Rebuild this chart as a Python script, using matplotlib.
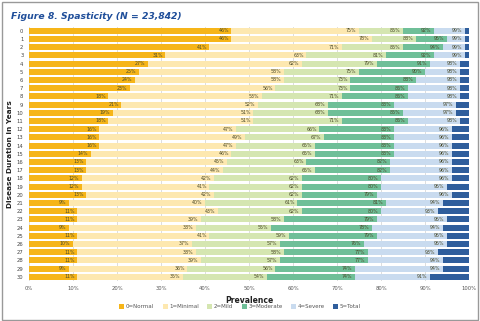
import matplotlib
matplotlib.use("Agg")
import matplotlib.pyplot as plt
from matplotlib.patches import Rectangle, Patch
import numpy as np

years = list(range(31))
categories = ["0=Normal", "1=Minimal", "2=Mild", "3=Moderate", "4=Severe", "5=Total"]

# cumulative percentages (as labelled in the chart)
cum_normal = [46, 46, 41, 31, 27, 25, 24, 23, 18, 21, 19, 18, 16, 16, 16, 14,
              13, 13, 12, 12, 13, 9, 11, 11, 9, 11, 10, 11, 11, 9, 11]
cum_minimal = [75, 78, 71, 63, 62, 58, 58, 56, 53, 52, 51, 51, 47, 49, 47, 46,
               45, 44, 42, 41, 42, 40, 43, 39, 38, 41, 37, 38, 39, 36, 35]
cum_mild = [85, 88, 85, 81, 79, 75, 73, 73, 71, 68, 68, 71, 66, 67, 65, 65,
            63, 65, 62, 62, 62, 61, 62, 58, 55, 59, 57, 58, 57, 56, 54]
cum_moderate = [92, 95, 94, 92, 91, 90, 88, 86, 86, 83, 85, 86, 83, 83, 83, 83,
                82, 82, 80, 80, 79, 81, 80, 79, 78, 79, 76, 77, 77, 74, 74]
cum_severe = [99, 99, 99, 99, 98, 98, 98, 98, 98, 97, 97, 98, 96, 96, 96, 96,
              96, 96, 96, 95, 96, 94, 93, 95, 94, 95, 95, 93, 94, 94, 91]
cum_total = [100] * 31

colors = ["#F6B519", "#FDE8B0", "#D5E6B1", "#6FBF98", "#C9DBEF", "#2F5E9C"]
xticks = [0, 10, 20, 30, 40, 50, 60, 70, 80, 90, 100]

fig = plt.figure(figsize=(4.8, 3.21), dpi=100)
fig.patches.append(Rectangle((0.004, 0.004), 0.992, 0.99, transform=fig.transFigure,
                             fill=False, edgecolor="#999999", linewidth=1.0))
ax = fig.add_axes([0.0604, 0.125, 0.917, 0.792])

cums = [cum_normal, cum_minimal, cum_mild, cum_moderate, cum_severe, cum_total]
left = np.zeros(31)
y = np.array(years)
for i, (cname, cum) in enumerate(zip(categories, cums)):
    cum = np.array(cum, dtype=float)
    width = cum - left
    ax.barh(y, width, left=left, height=0.74, color=colors[i], label=cname, zorder=2)
    if i < 5:
        for yy, c in zip(y, cum):
            ax.text(c - 0.6, yy, f"{int(c)}%", ha="right", va="center",
                    fontsize=3.4, color="#4a4a2a", zorder=3)
    left = cum

ax.set_xlim(0, 100)
ax.set_ylim(30.5, -0.5)
ax.set_yticks(years)
ax.set_yticklabels([str(v) for v in years], fontsize=3.8, color="#444444")
ax.set_xticks(xticks)
ax.set_xticklabels([f"{v}%" for v in xticks], fontsize=3.8, color="#555555")
ax.tick_params(length=0, pad=4)
ax.xaxis.grid(True, color="#d8d8d8", linewidth=0.6, zorder=0)
ax.set_axisbelow(True)
for s in ax.spines.values():
    s.set_visible(False)

ax.set_xlabel("Prevalence", fontsize=5.5, fontweight="bold", color="#222222", labelpad=3)
ax.set_ylabel("Disease Duration in Years", fontsize=5.3, fontweight="semibold",
              color="#222222", labelpad=3)

fig.text(0.022, 0.95, "Figure 8. Spasticity (N = 23,842)", fontsize=6.7, fontweight="bold",
         fontstyle="italic", color="#1F4E9A", ha="left", va="center")

handles = [Patch(facecolor=c, label=l) for c, l in zip(colors, categories)]
fig.legend(handles=handles, loc="center", bbox_to_anchor=(0.5, 0.045), ncol=6,
           frameon=False, fontsize=4.0, handlelength=0.9, handleheight=0.9,
           handletextpad=0.3, columnspacing=1.5, labelcolor="#555555")

fig.savefig("out.png", dpi=100)
